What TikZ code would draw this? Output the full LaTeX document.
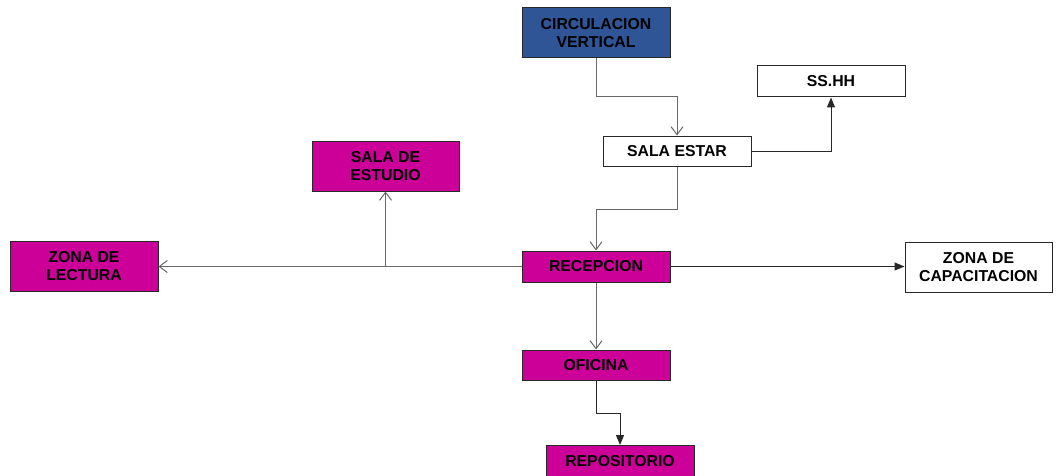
\documentclass[tikz,border=0pt]{standalone}
\usepackage{fontspec}
\setmainfont{Liberation Sans}
\usetikzlibrary{arrows.meta}
\definecolor{mag}{RGB}{204,0,153}
\definecolor{navy}{RGB}{47,85,151}
\definecolor{conn}{RGB}{105,105,105}
\definecolor{edge}{RGB}{40,40,40}
\tikzset{
  box/.style={draw=edge, line width=1pt, minimum width=148pt, align=center, inner sep=0pt,
    font=\fontsize{15.8}{18}\selectfont\bfseries, text=black},
  magbox/.style={box, fill=mag},
  whitebox/.style={box, fill=white},
  bluebox/.style={box, fill=navy},
  openarr/.style={draw=conn, line width=1pt, -{Straight Barb[length=8pt,width=12pt]}},
  fillarr/.style={draw=edge, line width=1pt, -{Triangle[length=10pt,width=8pt]}},
  plain/.style={draw=conn, line width=1pt}
}
\begin{document}
\begin{tikzpicture}[x=1pt,y=-1pt]
\useasboundingbox (0,0) rectangle (1059,476);
\node[bluebox, minimum height=50pt] (circ) at (596,33) {CIRCULACION\\VERTICAL};
\node[whitebox, minimum height=31pt] (sshh) at (831,81.5) {SS.HH};
\node[whitebox, minimum height=30pt] (sala) at (677,151) {SALA ESTAR};
\node[magbox, minimum width=147pt, minimum height=50pt] (estudio) at (385.5,166) {SALA DE\\ESTUDIO};
\node[magbox, minimum height=50pt] (lectura) at (84,266) {ZONA DE\\LECTURA};
\node[magbox, minimum height=31pt] (recep) at (596,266.5) {RECEPCION};
\node[whitebox, minimum width=147pt, minimum height=50pt] (capac) at (978.5,267) {ZONA DE\\CAPACITACION};
\node[magbox, minimum height=30pt] (ofic) at (596,365) {OFICINA};
\node[magbox, minimum height=31pt] (repo) at (620,461) {REPOSITORIO};

\draw[openarr] (circ.south) -- (circ.south |- 0,97) -| (sala.north);
\draw[fillarr] (sala.east) -| (sshh.south);
\draw[openarr] (sala.south) -- (sala.south |- 0,209) -| (recep.north);
\draw[openarr] (recep.west) -- (recep.west -| lectura.east);
\coordinate (j) at (estudio.south |- recep.west);
\draw[openarr] (j) -- (estudio.south);
\draw[fillarr] (recep.east) -- (recep.east -| capac.west);
\draw[openarr] (recep.south) -- (ofic.north);
\draw[fillarr] (ofic.south) -- (ofic.south |- 0,413) -| (repo.north);
\end{tikzpicture}
\end{document}
